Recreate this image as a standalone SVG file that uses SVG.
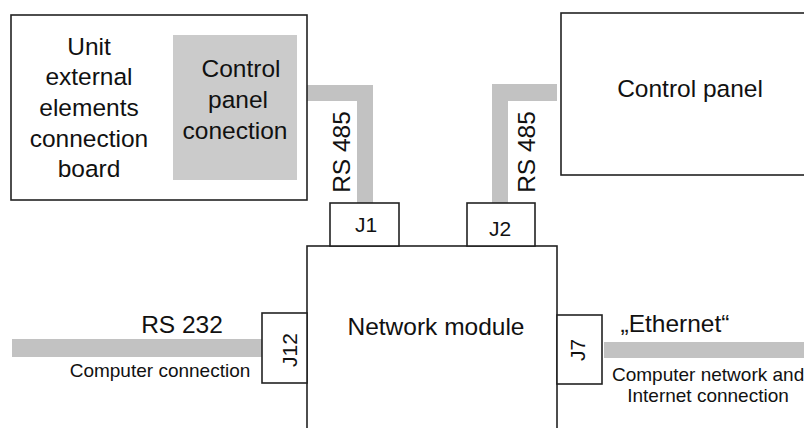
<svg xmlns="http://www.w3.org/2000/svg" width="804" height="428" viewBox="0 0 804 428">
<style>
.box{fill:#fff;stroke:#222;stroke-width:1.6}
.band{fill:#c2c2c2;stroke:none}
text{font-family:"Liberation Sans",Arial,sans-serif;fill:#111}
.big{font-size:24.5px}
.sm{font-size:19px}
.jj{font-size:21px}
</style>
<rect x="0" y="0" width="804" height="428" fill="#fff"/>
<g id="connectors">
<polygon class="band" points="307,85 373,85 373,203 357,203 357,101 307,101"/>
<polygon class="band" points="557,84 492,84 492,203 508,203 508,101 557,101"/>
<rect class="band" x="12" y="339" width="250" height="18"/>
<rect class="band" x="604" y="342" width="200" height="16"/>
<text class="big" text-anchor="middle" transform="translate(350,152) rotate(-90)">RS 485</text>
<text class="big" text-anchor="middle" transform="translate(535,152) rotate(-90)">RS 485</text>
<text class="big" x="182" y="333" text-anchor="middle">RS 232</text>
<text class="sm" x="160" y="377" text-anchor="middle">Computer connection</text>
<text class="big" x="675" y="332" text-anchor="middle">„Ethernet“</text>
<text class="sm" x="612" y="381">Computer network and</text>
<text class="sm" x="708" y="402" text-anchor="middle">Internet connection</text>
</g>
<g id="unit-board">
<rect class="box" x="11" y="15" width="296" height="185"/>
<g text-anchor="middle" class="big">
<text x="89" y="55">Unit</text>
<text x="89" y="85">external</text>
<text x="89" y="116">elements</text>
<text x="89" y="147">connection</text>
<text x="89" y="177">board</text>
</g>
</g>
<g id="control-panel-connection">
<rect x="173" y="35" width="124" height="145" fill="#cbcbcb"/>
<g text-anchor="middle" class="big">
<text x="241" y="77">Control</text>
<text x="238" y="108">panel</text>
<text x="235" y="139">conection</text>
</g>
</g>
<g id="control-panel">
<rect class="box" x="561" y="13" width="260" height="162"/>
<text class="big" x="690" y="97" text-anchor="middle">Control panel</text>
</g>
<g id="network-module">
<rect class="box" x="307" y="246" width="250" height="200"/>
<text class="big" x="436" y="335" text-anchor="middle">Network module</text>
</g>
<g id="J1">
<rect class="box" x="330" y="203" width="69" height="43"/>
<text class="jj" x="366" y="232" text-anchor="middle">J1</text>
</g>
<g id="J2">
<rect class="box" x="467" y="203" width="68" height="43"/>
<text class="jj" x="500" y="236" text-anchor="middle">J2</text>
</g>
<g id="J12">
<rect class="box" x="262" y="313" width="45" height="70"/>
<text class="jj" text-anchor="middle" transform="translate(297,350) rotate(-90)">J12</text>
</g>
<g id="J7">
<rect class="box" x="557" y="315" width="45" height="69"/>
<text class="jj" text-anchor="middle" transform="translate(585,350) rotate(-90)">J7</text>
</g>
</svg>
